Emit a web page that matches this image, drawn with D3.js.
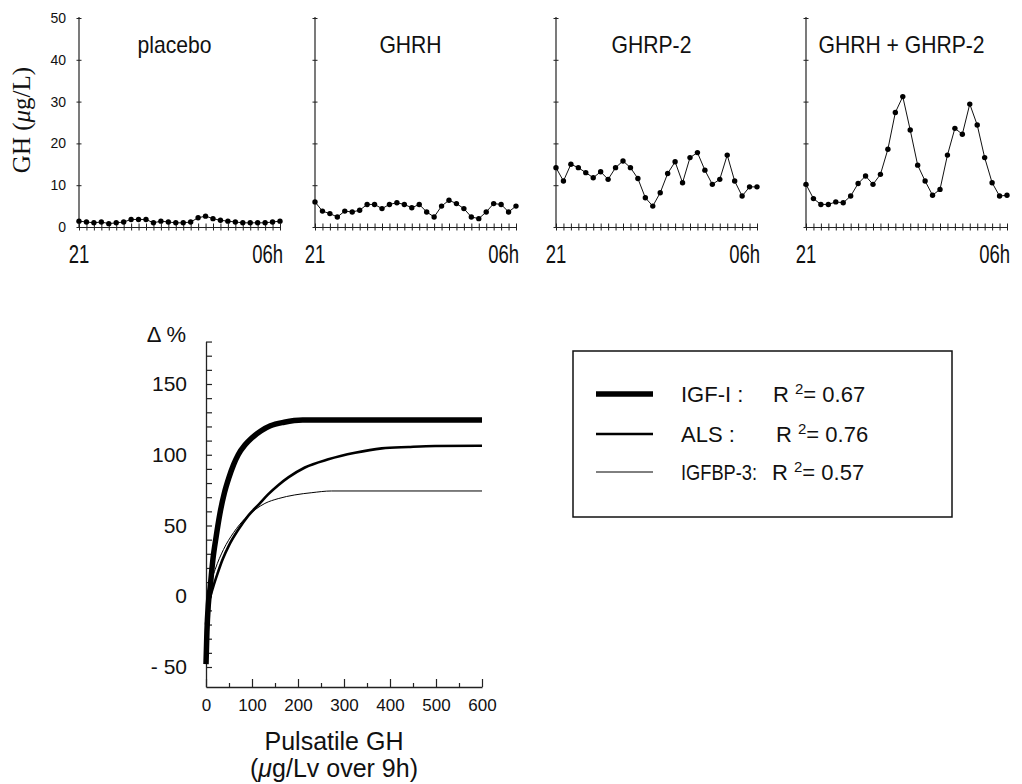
<!DOCTYPE html>
<html>
<head>
<meta charset="utf-8">
<script src="https://cdn.jsdelivr.net/npm/d3@7"></script>
<style>
  body { margin: 0; background: #fff; }
  text { fill: #111; }
</style>
</head>
<body>
<svg id="fig" width="1022" height="784"></svg>
<script>
// ---- Overnight GH profiles (20-min sampling, 21h → 06h) ----
const panelNames = ["placebo", "GHRH", "GHRP-2", "GHRH + GHRP-2"];
const timeLabels = ["21", "06h"];
const ghTicks = [0, 10, 20, 30, 40, 50];
const ghPlacebo = [1.4, 1.2, 1.0, 1.2, 0.8, 1.0, 1.2, 1.8, 1.8, 1.8, 1.0, 1.4, 1.2, 1.0,
                   1.0, 1.2, 2.2, 2.6, 2.0, 1.6, 1.4, 1.2, 1.0, 1.0, 1.0, 1.0, 1.2, 1.4];
const ghGHRH    = [6.0, 3.8, 3.2, 2.4, 3.8, 3.6, 4.0, 5.4, 5.4, 4.4, 5.4, 5.8, 5.4, 4.6,
                   5.4, 3.6, 2.4, 5.0, 6.4, 5.6, 4.4, 2.4, 2.0, 3.6, 5.6, 5.4, 3.6, 5.0];
const ghGHRP2   = [14.2, 11.0, 15.0, 14.2, 13.0, 11.8, 13.2, 11.4, 14.2, 15.8, 14.2, 11.6, 7.0, 5.0,
                   8.2, 12.8, 15.6, 10.6, 16.6, 17.8, 13.6, 10.2, 11.4, 17.2, 11.0, 7.4, 9.6, 9.6];
const ghCombo   = [10.2, 6.8, 5.4, 5.4, 6.0, 5.8, 7.4, 10.4, 12.2, 10.2, 12.6, 18.6, 27.4, 31.2,
                   23.2, 14.8, 11.0, 7.6, 9.0, 17.2, 23.6, 22.2, 29.4, 24.4, 16.6, 10.6, 7.4, 7.6];
const panelSeries = [ghPlacebo, ghGHRH, ghGHRP2, ghCombo];

// ---- Δ% of IGF-I, ALS, IGFBP-3 versus pulsatile GH ----
const pulsatileTicks = [0, 100, 200, 300, 400, 500, 600];
const pulsatileMinor = [50, 150, 250, 350, 450, 550];
const deltaTicks = [-50, 0, 50, 100, 150];
const igf1Curve = [[0, -48], [2, -25], [5, -6], [9, 6], [15, 26], [22, 42], [30, 58], [40, 73],
                   [50, 84], [60, 93], [70, 100], [85, 107], [100, 112], [120, 117], [140, 120.5],
                   [170, 123], [210, 124.5], [600, 124.5]];
const alsCurve = [[0, -20], [3, -10], [8, -2], [15, 6], [25, 16], [36, 26], [50, 36], [70, 47],
                  [92, 57], [115, 65], [135, 72], [157, 78.5], [179, 84], [215, 91], [266, 96.8],
                  [324, 101.4], [382, 104.5], [440, 105.5], [498, 106.2], [600, 106.4]];
const igfbp3Curve = [[0, -15], [3, -4], [8, 6], [20, 19], [38, 33], [60, 45], [85, 55], [108, 61.5],
                     [128, 65.6], [157, 69], [193, 71.6], [230, 73.2], [273, 74.4], [600, 74.4]];
const legendNames = ["IGF-I :", "ALS :", "IGFBP-3:"];
const legendR2 = ["0.67", "0.76", "0.57"];

const svg = d3.select("#fig");
const SANS = "'Liberation Sans', Arial, Helvetica, sans-serif";

// narrow a text element horizontally to a fraction of its natural width
function squeeze(sel, f) {
  sel.each(function () {
    const w = this.getComputedTextLength();
    d3.select(this).attr("textLength", w * f).attr("lengthAdjust", "spacingAndGlyphs");
  });
}

// ================= top row: four GH profiles =================
const panelLeft = [79, 315, 556, 806];
const panelWidth = 201;
const yGH = d3.scaleLinear().domain([0, 50]).range([227, 18]);

panelNames.forEach((name, i) => {
  const data = panelSeries[i];
  const x = d3.scaleLinear().domain([0, data.length - 1])
    .range([panelLeft[i], panelLeft[i] + panelWidth]);
  const g = svg.append("g");

  // y axis (labels only on the first panel)
  const yAxis = d3.axisLeft(yGH).tickValues(ghTicks).tickSizeOuter(0).tickSizeInner(0)
    .tickPadding(13).tickFormat(i === 0 ? d3.format("d") : () => "");
  const ya = g.append("g").attr("transform", `translate(${x(0)},0)`).call(yAxis);
  ya.select(".domain").attr("stroke", "#222").attr("stroke-width", 1.2)
    .attr("d", `M0,${yGH(0)}V${yGH(50) - 1}`);
  ya.selectAll(".tick line").attr("x1", -2.5).attr("x2", 2.5).attr("stroke", "#222");
  ya.selectAll(".tick text").attr("font-family", SANS).attr("font-size", 14).attr("fill", "#111");

  // x axis with one tick per sample
  const xAxis = d3.axisBottom(x).tickValues(d3.range(data.length)).tickFormat(() => "")
    .tickSizeOuter(0).tickSizeInner(0);
  const xa = g.append("g").attr("transform", `translate(0,${yGH(0)})`).call(xAxis);
  xa.select(".domain").attr("stroke", "#222").attr("stroke-width", 1.2);
  xa.selectAll(".tick line").attr("y1", -3.5).attr("y2", 3.5).attr("stroke", "#222");

  // time labels
  g.append("text").attr("x", x(0)).attr("y", 263).attr("text-anchor", "middle")
    .attr("font-family", SANS).attr("font-size", 25).text(timeLabels[0]).call(squeeze, 0.74);
  g.append("text").attr("x", x(data.length - 1) + 3).attr("y", 263).attr("text-anchor", "end")
    .attr("font-family", SANS).attr("font-size", 25).text(timeLabels[1]).call(squeeze, 0.74);

  // panel title
  g.append("text").attr("x", x((data.length - 1) / 2) - 5).attr("y", 53).attr("text-anchor", "middle")
    .attr("font-family", SANS).attr("font-size", 24).text(name).call(squeeze, 0.88);

  // profile line and samples
  g.append("path").datum(data)
    .attr("fill", "none").attr("stroke", "#111").attr("stroke-width", 1)
    .attr("d", d3.line().x((d, j) => x(j)).y(d => yGH(d)));
  g.selectAll("circle").data(data).join("circle")
    .attr("cx", (d, j) => x(j)).attr("cy", d => yGH(d)).attr("r", 2.7).attr("fill", "#000");
});

// y title of the top row
const yTitle = svg.append("text")
  .attr("transform", "translate(30,120) rotate(-90)")
  .attr("text-anchor", "middle")
  .attr("font-family", "'Liberation Serif', 'Times New Roman', serif")
  .attr("font-size", 25);
yTitle.append("tspan").text("GH (");
yTitle.append("tspan").attr("font-style", "italic").text("μ");
yTitle.append("tspan").text("g/L)");

// ================= bottom: Δ% vs pulsatile GH =================
const xP = d3.scaleLinear().domain([0, 600]).range([206, 482]);
const yD = d3.scaleLinear().domain([-50, 150]).range([667, 384]);
const axisBottomY = 687;
const yFrame = yD.copy().domain([yD.invert(axisBottomY), 180]).range([axisBottomY, yD(180)]);
const gB = svg.append("g");

// y axis: minor ticks every 10, inward
const yMinor = d3.axisRight(yFrame).tickValues(d3.range(-50, 181, 10)).tickFormat(() => "")
  .tickSizeInner(6).tickSizeOuter(0);
const yb = gB.append("g").attr("transform", `translate(${xP(0)},0)`).call(yMinor);
yb.select(".domain").attr("stroke", "#222").attr("stroke-width", 1.3);
yb.selectAll(".tick line").attr("stroke", "#222").attr("stroke-width", 1.2);

// y labels
const yLab = d3.axisLeft(yD).tickValues(deltaTicks).tickSize(0).tickPadding(19)
  .tickFormat(d => d < 0 ? "- " + Math.abs(d) : String(d));
const yl = gB.append("g").attr("transform", `translate(${xP(0)},0)`).call(yLab);
yl.select(".domain").remove();
yl.selectAll(".tick text").attr("font-family", SANS).attr("font-size", 21).attr("fill", "#111");

// x axis: majors every 100, minors every 50, pointing up
const xMajor = d3.axisBottom(xP).tickValues(pulsatileTicks).tickSizeInner(-8).tickSizeOuter(0)
  .tickPadding(12).tickFormat(d3.format("d"));
const xb = gB.append("g").attr("transform", `translate(0,${axisBottomY})`).call(xMajor);
xb.select(".domain").attr("stroke", "#222").attr("stroke-width", 1.3);
xb.selectAll(".tick line").attr("stroke", "#222").attr("stroke-width", 1.2);
xb.selectAll(".tick text").attr("font-family", SANS).attr("font-size", 17).attr("fill", "#111");
const xMin = d3.axisBottom(xP).tickValues(pulsatileMinor).tickSizeInner(-4).tickSizeOuter(0)
  .tickFormat(() => "");
const xm = gB.append("g").attr("transform", `translate(0,${axisBottomY})`).call(xMin);
xm.select(".domain").remove();
xm.selectAll(".tick line").attr("stroke", "#222").attr("stroke-width", 1.2);

// axis titles
gB.append("text").attr("x", 186).attr("y", 342).attr("text-anchor", "end")
  .attr("font-family", SANS).attr("font-size", 22).text("Δ %");
gB.append("text").attr("x", 334).attr("y", 750).attr("text-anchor", "middle")
  .attr("font-family", SANS).attr("font-size", 25).text("Pulsatile GH");
const sub = gB.append("text").attr("x", 334).attr("y", 777).attr("text-anchor", "middle")
  .attr("font-family", SANS).attr("font-size", 25);
sub.append("tspan").text("(");
sub.append("tspan").attr("font-style", "italic").text("μ");
sub.append("tspan").text("g/Lv over 9h)");

// fitted curves
const curveLine = d3.line().x(d => xP(d[0])).y(d => yD(d[1])).curve(d3.curveMonotoneX);
const curves = [
  { data: igfbp3Curve, w: 1 },
  { data: alsCurve, w: 2.6 },
  { data: igf1Curve, w: 5.5 }
];
curves.forEach(c => {
  gB.append("path").datum(c.data).attr("fill", "none").attr("stroke", "#000")
    .attr("stroke-width", c.w).attr("stroke-linejoin", "round").attr("d", curveLine);
});

// legend
const legend = svg.append("g");
legend.append("rect").attr("x", 573).attr("y", 351).attr("width", 379).attr("height", 166)
  .attr("fill", "none").attr("stroke", "#111").attr("stroke-width", 1.5);
const rowY = [394, 434, 472];
const lineW = [5.5, 2.6, 1];
const rX = [773, 776, 772];
legendNames.forEach((nm, i) => {
  legend.append("line").attr("x1", 596).attr("x2", 653).attr("y1", rowY[i]).attr("y2", rowY[i])
    .attr("stroke", "#000").attr("stroke-width", lineW[i]);
  const lab = legend.append("text").attr("x", 681).attr("y", rowY[i] + 8)
    .attr("font-family", SANS).attr("font-size", 22).text(nm);
  if (i === 2) lab.call(squeeze, 0.83);
  const t = legend.append("text").attr("x", rX[i]).attr("y", rowY[i] + 8)
    .attr("font-family", SANS).attr("font-size", 22);
  t.append("tspan").text("R ");
  t.append("tspan").attr("font-size", 15).attr("dy", -8).text("2");
  t.append("tspan").attr("dy", 8).text("= " + legendR2[i]);
});
</script>
</body>
</html>
